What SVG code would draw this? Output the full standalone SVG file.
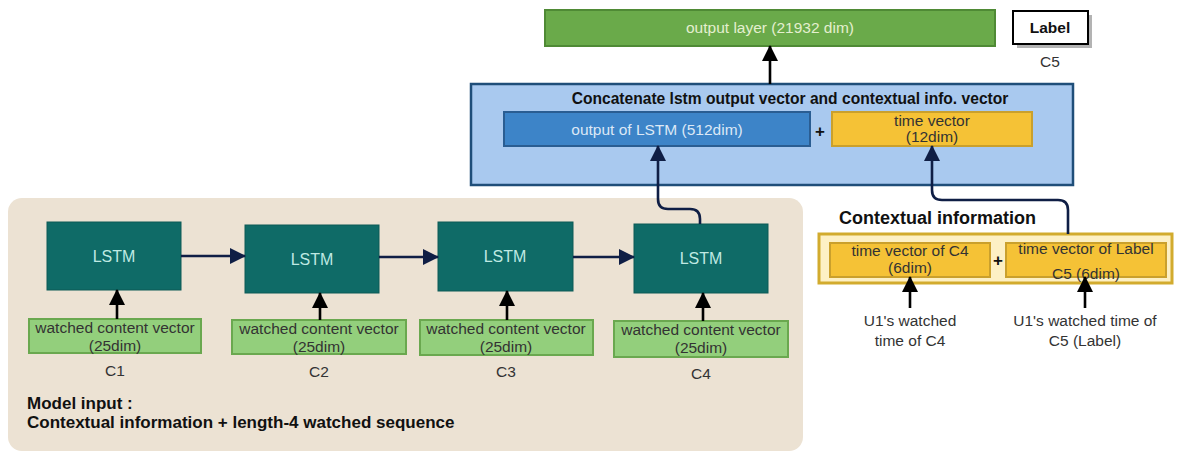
<svg xmlns="http://www.w3.org/2000/svg" width="1178" height="455" viewBox="0 0 1178 455">
<style>
text{font-family:"Liberation Sans",Arial,sans-serif;font-size:15.5px;text-anchor:middle;fill:#333}
.b{font-weight:bold;fill:#111}
.lstm rect{fill:#0f6b67;stroke:#0c5a57;stroke-width:1}
.lstm text{fill:#bfe9e3;font-size:16px}
.cv rect{fill:#93cf7c;stroke:#6aa84f;stroke-width:2}
.tv rect{fill:#f5c236;stroke:#caa02c;stroke-width:2}
.cn{fill:none;stroke-width:2.6}
.nv{stroke:#0f1e45}
.bk{stroke:#000}
</style>
<defs>
<marker id="an" viewBox="0 0 16 16" refX="15" refY="8" markerWidth="16" markerHeight="17" markerUnits="userSpaceOnUse" orient="auto"><path d="M0,0 L16,8 L0,16 z" fill="#0f1e45"/></marker>
<marker id="ab" viewBox="0 0 16 16" refX="15" refY="8" markerWidth="16" markerHeight="18" markerUnits="userSpaceOnUse" orient="auto"><path d="M0,0 L16,8 L0,16 z" fill="#000"/></marker>
</defs>
<rect width="1178" height="455" fill="#fff"/>

<g id="input-panel">
<rect x="8" y="198" width="795" height="253" rx="14" fill="#ece2d3"/>
<text class="b" x="27" y="409" style="text-anchor:start;font-size:17px">Model input :</text>
<text class="b" x="27" y="428" style="text-anchor:start;font-size:17px">Contextual information + length-4 watched sequence</text>
</g>

<g id="output-layer">
<rect x="545" y="10" width="450" height="36" fill="#6aaa4a" stroke="#4f8a35" stroke-width="2"/>
<text x="770" y="33" style="fill:#e4efcf">output layer (21932 dim)</text>
</g>

<g id="label">
<rect x="1017" y="15" width="75" height="33" fill="#b3b3b3"/>
<rect x="1013" y="11" width="75" height="33" fill="#fff" stroke="#000" stroke-width="2"/>
<text class="b" x="1050" y="33">Label</text>
<text x="1050" y="67">C5</text>
</g>

<g id="concat">
<rect x="471" y="84" width="602" height="101" fill="#a9c9ef" stroke="#1f4e79" stroke-width="2.5"/>
<text class="b" x="790" y="104" style="font-size:15.6px">Concatenate lstm output vector and contextual info. vector</text>
</g>

<g id="lstm-output">
<rect x="504" y="112" width="306" height="34" fill="#3d84c8" stroke="#2a5d92" stroke-width="2"/>
<text x="657" y="135" style="fill:#dce8f6">output of LSTM (512dim)</text>
</g>
<text class="b" x="820" y="137" style="font-size:17px">+</text>

<g id="time-vector" class="tv">
<rect x="832" y="112" width="200" height="34"/>
<text x="932" y="126">time vector</text>
<text x="932" y="142">(12dim)</text>
</g>

<g id="lstm1" class="lstm"><rect x="47" y="222" width="134" height="68"/><text x="114" y="262">LSTM</text></g>
<g id="lstm2" class="lstm"><rect x="245" y="225" width="134" height="68"/><text x="312" y="265">LSTM</text></g>
<g id="lstm3" class="lstm"><rect x="438" y="222" width="135" height="69"/><text x="505" y="262">LSTM</text></g>
<g id="lstm4" class="lstm"><rect x="634" y="224" width="134" height="69"/><text x="701" y="264">LSTM</text></g>

<g id="cv1" class="cv"><rect x="29" y="319" width="172" height="34"/><text x="115" y="333">watched content vector</text><text x="115" y="351">(25dim)</text><text x="115" y="376">C1</text></g>
<g id="cv2" class="cv"><rect x="232" y="320" width="174" height="34"/><text x="319" y="334">watched content vector</text><text x="319" y="352">(25dim)</text><text x="319" y="377">C2</text></g>
<g id="cv3" class="cv"><rect x="420" y="320" width="173" height="35"/><text x="506" y="334">watched content vector</text><text x="506" y="352">(25dim)</text><text x="506" y="377">C3</text></g>
<g id="cv4" class="cv"><rect x="614" y="321" width="174" height="36"/><text x="701" y="335">watched content vector</text><text x="701" y="353">(25dim)</text><text x="701" y="379">C4</text></g>

<g id="context">
<text class="b" x="839" y="224" style="text-anchor:start;font-size:18px">Contextual information</text>
<rect x="819" y="234" width="353" height="49" fill="#fdf0c4" stroke="#d2ab2e" stroke-width="3"/>
</g>
<g id="tv-c4" class="tv">
<rect x="830" y="243" width="160" height="34"/>
<text x="910" y="256">time vector of C4</text>
<text x="910" y="273">(6dim)</text>
</g>
<text class="b" x="998" y="266" style="font-size:17px">+</text>
<g id="tv-c5" class="tv">
<rect x="1006" y="243" width="160" height="34"/>
<text x="1086" y="254">time vector of Label</text>
<text x="1086" y="279">C5 (6dim)</text>
</g>
<g id="u1-c4"><text x="910" y="326">U1's watched</text><text x="910" y="346">time of C4</text></g>
<g id="u1-c5"><text x="1085" y="326">U1's watched time of</text><text x="1085" y="346">C5 (Label)</text></g>

<g id="connectors">
<path class="cn nv" d="M181,256 L245,256" marker-end="url(#an)"/>
<path class="cn nv" d="M379,257 L438,257" marker-end="url(#an)"/>
<path class="cn nv" d="M573,257 L634,257" marker-end="url(#an)"/>
<path class="cn bk" d="M117,319 L117,290" marker-end="url(#ab)"/>
<path class="cn bk" d="M320,320 L320,293" marker-end="url(#ab)"/>
<path class="cn bk" d="M507,320 L507,291" marker-end="url(#ab)"/>
<path class="cn bk" d="M703,321 L703,293" marker-end="url(#ab)"/>
<path class="cn nv" d="M700,224 L700,219 Q700,209 690,209 L668,209 Q658,209 658,199 L658,146" marker-end="url(#an)"/>
<path class="cn nv" d="M1068,234 L1068,210 Q1068,200 1058,200 L942,200 Q932,200 932,190 L932,146" marker-end="url(#an)"/>
<path class="cn bk" d="M770,84 L770,46" marker-end="url(#ab)"/>
<path class="cn bk" d="M910,308 L910,277" marker-end="url(#ab)"/>
<path class="cn bk" d="M1085,308 L1085,277" marker-end="url(#ab)"/>
</g>
</svg>
